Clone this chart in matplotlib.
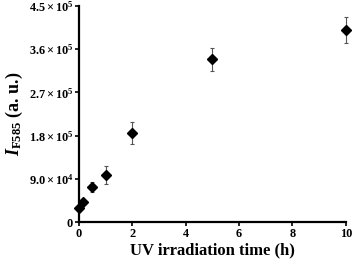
import matplotlib
matplotlib.use("Agg")
import matplotlib.pyplot as plt
from matplotlib.ticker import FixedLocator, FuncFormatter

plt.rcParams['font.family'] = ['Liberation Serif', 'DejaVu Serif']
plt.rcParams['font.weight'] = 'bold'
plt.rcParams['mathtext.fontset'] = 'custom'
plt.rcParams['mathtext.rm'] = 'Liberation Serif:bold'
plt.rcParams['mathtext.it'] = 'Liberation Serif:italic:bold'
plt.rcParams['mathtext.bf'] = 'Liberation Serif:bold'

time_h = [0, 0.17, 0.5, 1, 2, 5, 10]
intensity = [30000, 42000, 73000, 98000, 185000, 339000, 400000]
errors = [3000, 3500, 10000, 19000, 23000, 24000, 28000]
yticks = [0, 90000, 180000, 270000, 360000, 450000]
ytick_labels = ['0', '9.0', '1.8', '2.7', '3.6', '4.5']
ytick_exp = ['', '4', '5', '5', '5', '5']
xticks = [0, 2, 4, 6, 8, 10]

fig = plt.figure(figsize=(3.54, 2.6), dpi=100)
ax = fig.add_axes([0.223, 0.146, 0.754, 0.831])

ax.errorbar(time_h, intensity, yerr=errors, fmt='none', ecolor='#555555',
            elinewidth=0.8, capsize=1.5, capthick=0.8, zorder=2, clip_on=False)
ax.plot(time_h, intensity, linestyle='none', marker='D', color='black',
        markersize=5, zorder=3, clip_on=False)

ax.set_xlim(0, 10)
ax.set_ylim(0, 450000)
ax.xaxis.set_major_locator(FixedLocator(xticks))
ax.yaxis.set_major_locator(FixedLocator(yticks))

def yfmt(v, pos):
    for t, lab, e in zip(yticks, ytick_labels, ytick_exp):
        if abs(v - t) < 1:
            if e == '':
                return r'$\mathbf{' + lab + '}$'
            return r'$\mathbf{' + lab + r'}\times\mathbf{10^{' + e + '}}$'
    return ''

ax.yaxis.set_major_formatter(FuncFormatter(yfmt))
ax.xaxis.set_major_formatter(FuncFormatter(lambda v, p: '%d' % v))

for s in ['top', 'right']:
    ax.spines[s].set_visible(False)
for s in ['left', 'bottom']:
    ax.spines[s].set_linewidth(1.6)
    ax.spines[s].set_clip_on(False)
ax.tick_params(axis='both', direction='out', length=3, width=1.2,
               labelsize=8.8, pad=1)
for lab in ax.get_xticklabels() + ax.get_yticklabels():
    lab.set_fontweight('bold')

ax.set_xlabel('UV irradiation time (h)', fontsize=12, fontweight='bold', labelpad=2)
ax.set_ylabel(r'$I_{\mathrm{F585}}$ (a. u.)', fontsize=13, fontweight='bold', labelpad=3)

fig.savefig('out.png', dpi=100)
